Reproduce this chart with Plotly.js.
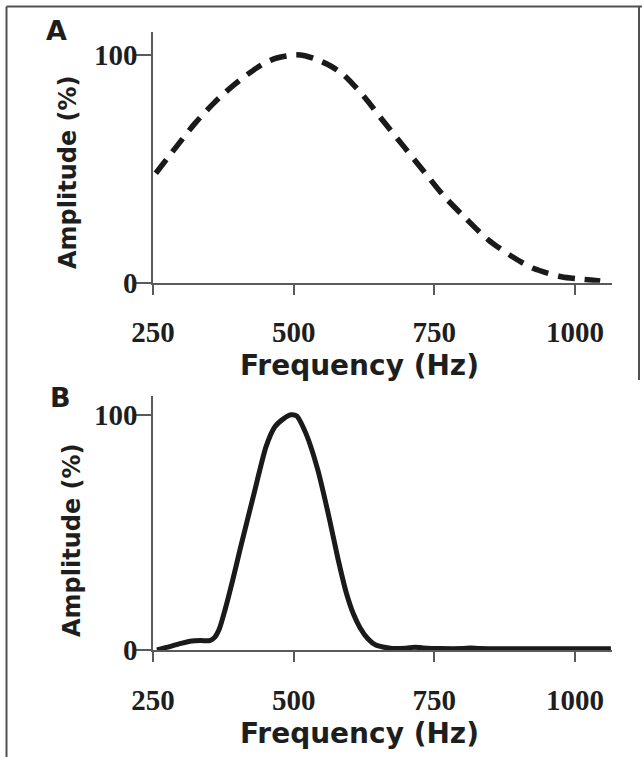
<!DOCTYPE html>
<html><head><meta charset="utf-8">
<script src="https://cdn.plot.ly/plotly-3.0.1.min.js"></script>
<style>html,body{margin:0;padding:0;background:#fff}</style>
</head><body><div id="chart" style="width:642px;height:757px"></div>
<script>
// Panel A: broad response (dashed)
const freqA = [255, 291, 325, 359, 394, 435, 465, 488, 504, 520, 539, 565, 589, 625, 660, 696, 732, 768, 803, 846, 889, 926, 976, 1005, 1033, 1045];
const ampA  = [48, 59.5, 70, 79, 86.8, 94.3, 98.2, 99.5, 100, 99.6, 98.1, 95.2, 91.2, 81.7, 70.7, 59.7, 48.7, 37.8, 29, 18.8, 11.4, 6.3, 2.6, 1.7, 1.1, 0.8];
// Panel B: narrow response (solid)
const freqB = [257, 274, 300, 319, 335, 351, 360, 368, 378, 392, 405, 428, 451, 467, 483, 495, 505, 522, 543, 564, 578, 594, 606, 618, 632, 646, 672, 700, 715, 730, 760, 800, 815, 830, 900, 1000, 1064];
const ampB  = [0, 1.1, 2.8, 3.8, 4, 4, 5.5, 9, 17, 30, 43, 65, 86.5, 95, 98.5, 100, 99.6, 92, 76.6, 55.3, 39.7, 24, 15.5, 9.5, 4.8, 2.1, 0.7, 0.8, 1.2, 0.9, 0.6, 0.6, 0.9, 0.6, 0.5, 0.5, 0.5];
const xTicks = [250, 500, 750, 1000];
const yTicks = [0, 100];
const xTitle = 'Frequency (Hz)';
const yTitle = 'Amplitude (%)';
const panelLabels = ['A', 'B'];

const W = 642, H = 757;
const px = v => v / W;
const py = v => 1 - v / H;
const ink = '#1a1a1a';
const axisCol = '#5a5a5a';
const tickFont = {family: 'Liberation Serif', size: 29, color: '#1e1e1e', weight: 'bold'};
const titleFont = (s) => ({family: 'DejaVu Sans', size: s, color: '#1e1e1e', weight: 'bold'});

const traces = [
  {x: freqA, y: ampA, xaxis: 'x', yaxis: 'y', type: 'scatter', mode: 'lines',
   line: {color: ink, width: 5.5, dash: '17px,10px', shape: 'spline', smoothing: 0.8}, hoverinfo: 'skip'},
  {x: freqB, y: ampB, xaxis: 'x2', yaxis: 'y2', type: 'scatter', mode: 'lines',
   line: {color: ink, width: 5, shape: 'spline', smoothing: 0.6}, hoverinfo: 'skip'}
];

function xAxis(anchor) {
  return {domain: [px(153), px(612)], range: [250, 1066], anchor: anchor,
    tickmode: 'array', tickvals: xTicks, ticktext: xTicks.map(String),
    ticks: 'outside', ticklen: 10, tickwidth: 1.8, tickcolor: axisCol,
    showline: true, linecolor: axisCol, linewidth: 1.8,
    showgrid: false, zeroline: false, tickfont: tickFont, ticklabelstandoff: 13, fixedrange: true};
}
function yAxis(anchor, top, bottom, ymax) {
  return {domain: [py(bottom), py(top)], range: [0, ymax], anchor: anchor,
    tickmode: 'array', tickvals: yTicks, ticktext: yTicks.map(String),
    ticks: 'outside', ticklen: 15, tickwidth: 1.8, tickcolor: axisCol,
    showline: true, linecolor: axisCol, linewidth: 1.8,
    showgrid: false, zeroline: false, tickfont: tickFont, ticklabelstandoff: -7, fixedrange: true};
}

const ann = (text, x, y, size, rot) => ({text: text, xref: 'paper', yref: 'paper', x: px(x), y: py(y),
  xanchor: 'center', yanchor: 'middle', showarrow: false, font: titleFont(size), textangle: rot || 0});

const layout = {
  width: W, height: H, margin: {l: 0, r: 0, t: 0, b: 0},
  paper_bgcolor: '#ffffff', plot_bgcolor: '#ffffff', showlegend: false,
  xaxis: xAxis('y'), yaxis: yAxis('x', 32, 282.7, 110),
  xaxis2: xAxis('y2'), yaxis2: yAxis('x2', 396, 650, 108),
  annotations: [
    ann(panelLabels[0], 56, 30, 27), ann(panelLabels[1], 60, 397, 27),
    ann(xTitle, 359, 365, 28), ann(xTitle, 359, 733, 28),
    ann(yTitle, 68, 172, 24, -90), ann(yTitle, 72, 540, 24, -90)
  ],
  shapes: [
    {type: 'line', xref: 'paper', yref: 'paper', x0: px(6.5), x1: 1, y0: py(6.5), y1: py(6.5), line: {color: '#505050', width: 2}},
    {type: 'line', xref: 'paper', yref: 'paper', x0: px(6.5), x1: px(6.5), y0: py(6.5), y1: 0, line: {color: '#505050', width: 2}},
    {type: 'line', xref: 'paper', yref: 'paper', x0: px(639), x1: px(639), y0: py(6.5), y1: py(380), line: {color: '#505050', width: 2}}
  ]
};

Plotly.newPlot('chart', traces, layout, {staticPlot: true, displayModeBar: false});
</script>
</body></html>
